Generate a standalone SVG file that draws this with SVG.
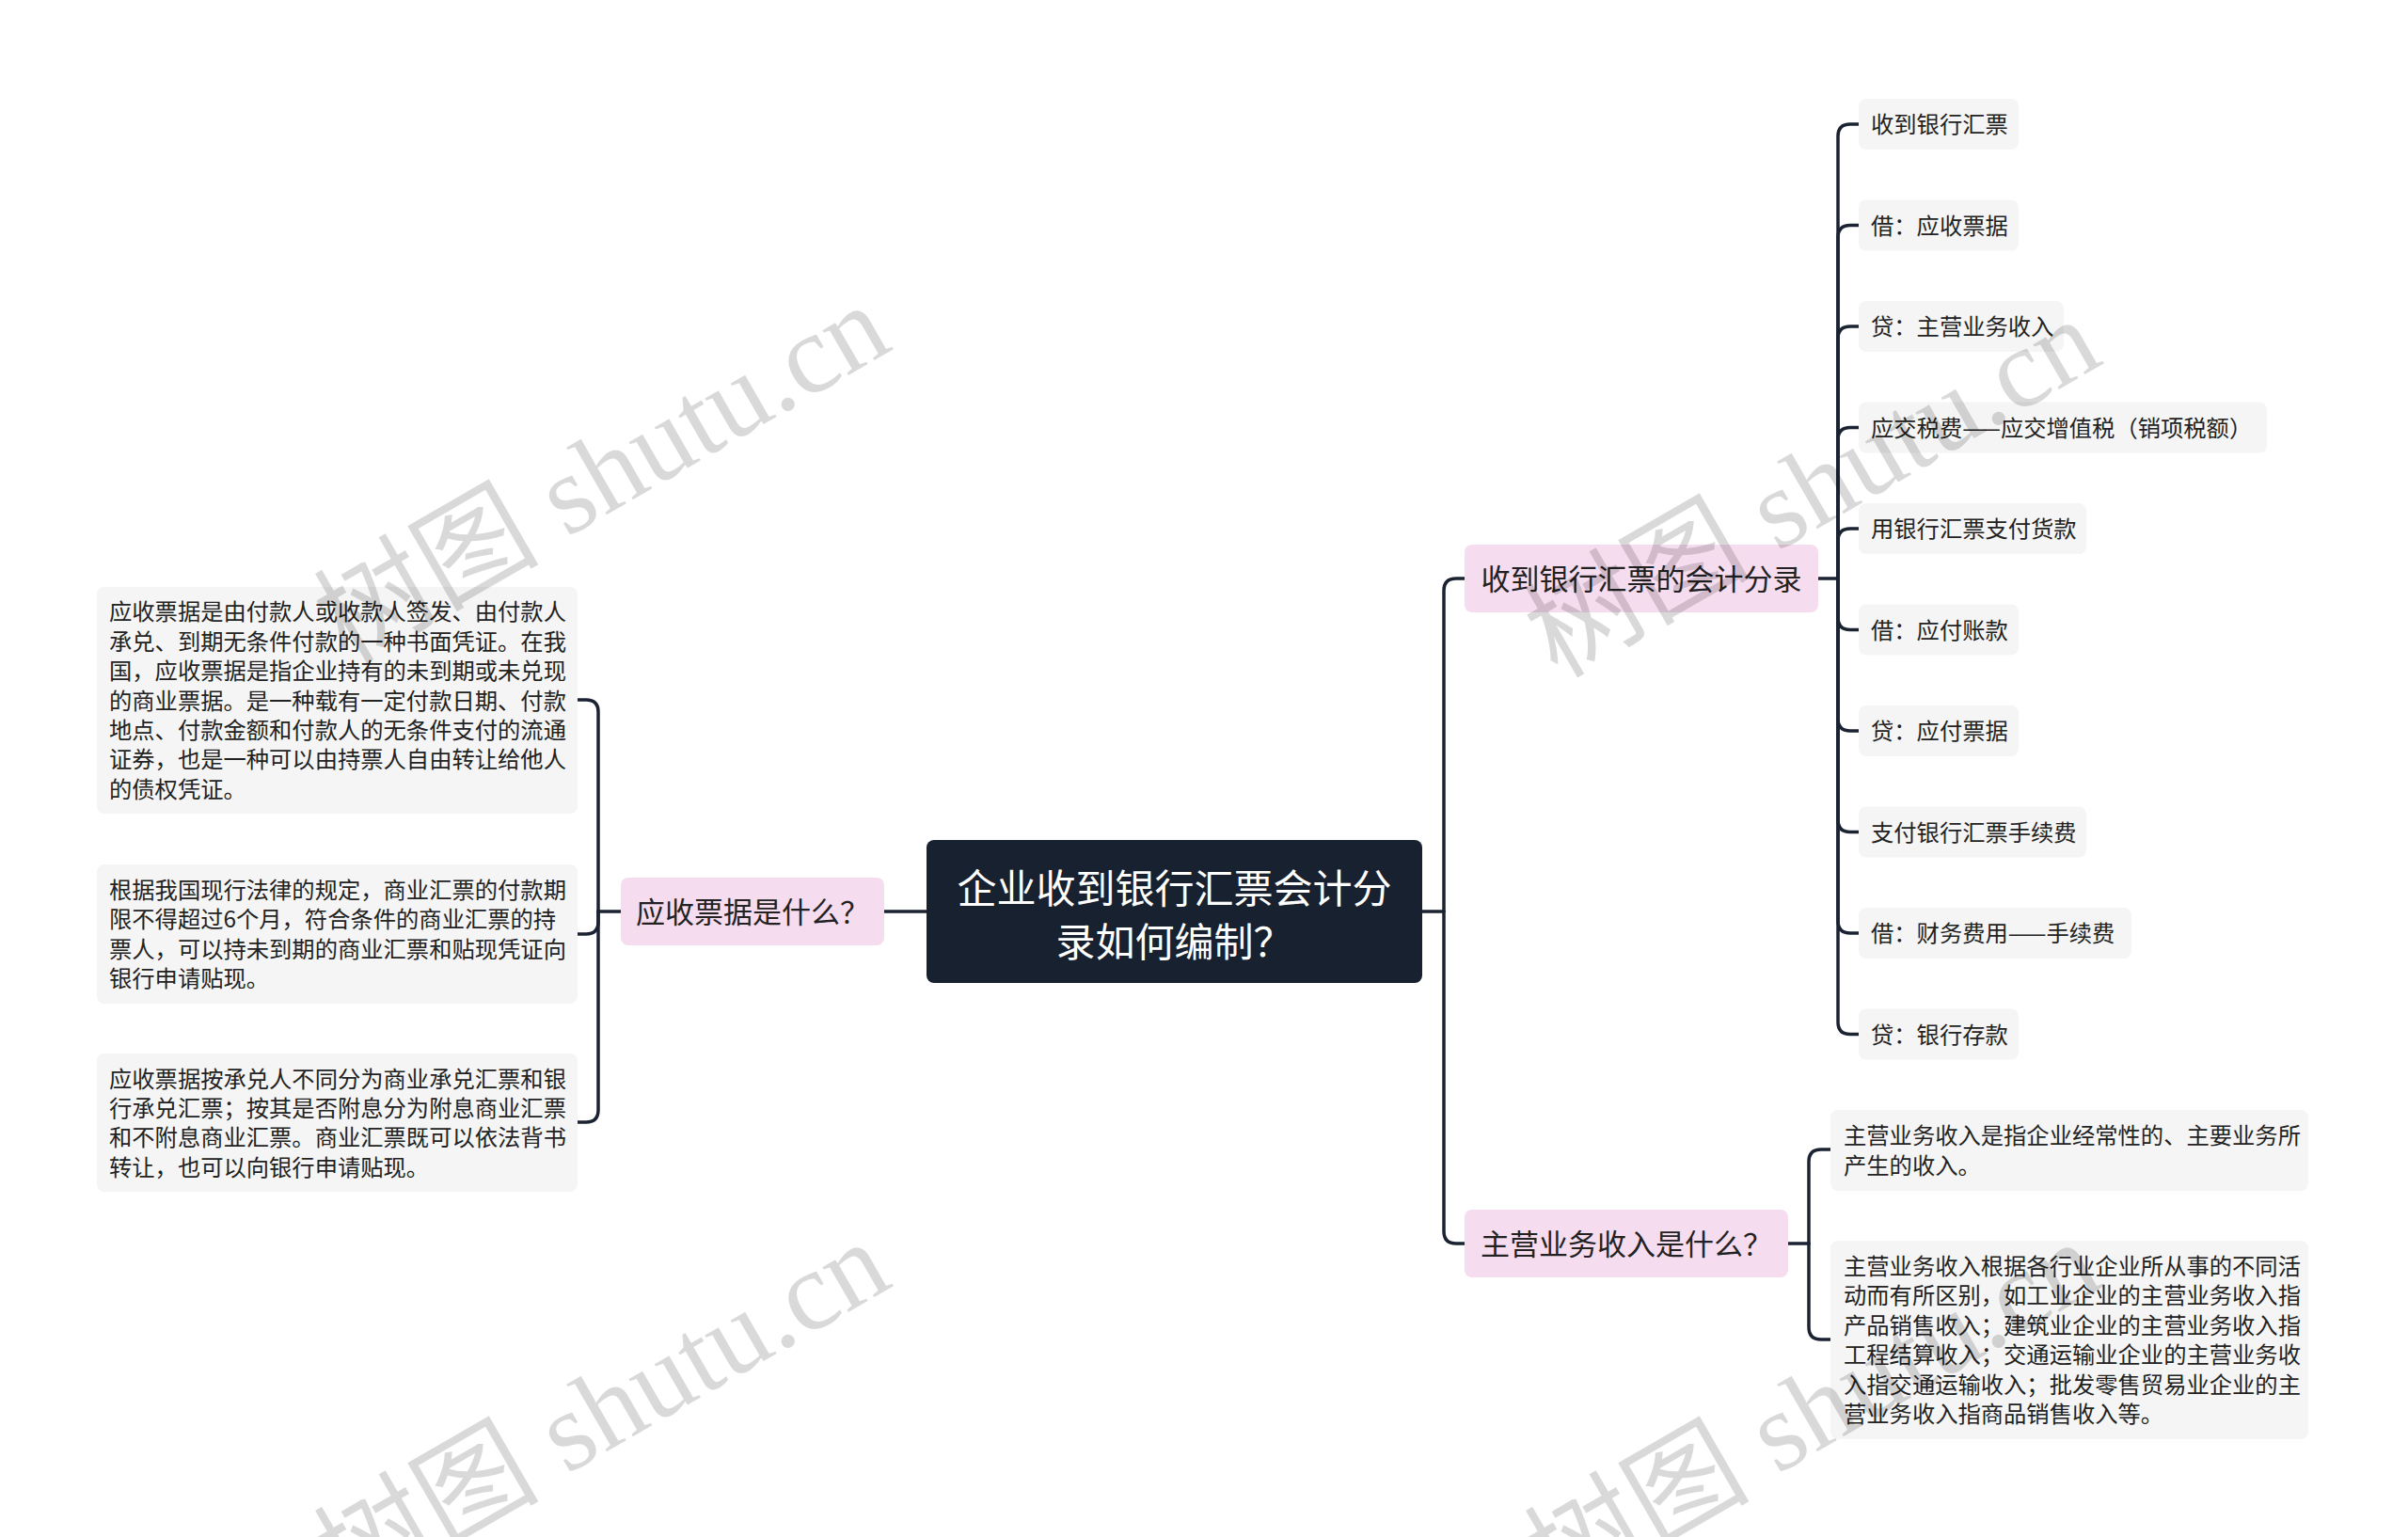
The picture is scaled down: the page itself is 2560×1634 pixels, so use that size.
<svg xmlns="http://www.w3.org/2000/svg" width="2560" height="1634" viewBox="0 0 2560 1634">
<style>
.t{font-family:"Noto Sans CJK SC","Noto Sans",sans-serif;fill:#222}
.c{font-size:42px;fill:#ffffff;text-anchor:middle}
.l1{font-size:31px;text-anchor:middle}
.lf{font-size:24.3px}
.root{fill:#18212f}
.pink{fill:#f6dcef}
.leaf{fill:#f5f5f5}
.con{fill:none;stroke:#1b2333;stroke-width:3.5;stroke-linecap:round}
.wm{font-family:"Liberation Serif","Noto Sans CJK SC",serif;font-size:120px;fill:#000;fill-opacity:0.15;text-anchor:middle}
</style>
<rect width="2560" height="1634" fill="#ffffff"/>
<g id="connectors">
<path class="con" d="M985,969 H940"/>
<path class="con" d="M660,969 H636"/>
<path class="con" d="M636,969 V757 Q636,744 623,744 H614"/>
<path class="con" d="M636,969 V980 Q636,993 623,993 H614"/>
<path class="con" d="M636,969 V1180 Q636,1193 623,1193 H614"/>
<path class="con" d="M1512,969 H1535"/>
<path class="con" d="M1535,969 V628 Q1535,615 1548,615 H1557"/>
<path class="con" d="M1535,969 V1309 Q1535,1322 1548,1322 H1557"/>
<path class="con" d="M1933,615 H1954"/>
<path class="con" d="M1954,615 V145 Q1954,132 1967,132 H1976"/>
<path class="con" d="M1954,615 V252.5 Q1954,239.5 1967,239.5 H1976"/>
<path class="con" d="M1954,615 V360 Q1954,347 1967,347 H1976"/>
<path class="con" d="M1954,615 V467.5 Q1954,454.5 1967,454.5 H1976"/>
<path class="con" d="M1954,615 V575 Q1954,562 1967,562 H1976"/>
<path class="con" d="M1954,615 V656.5 Q1954,669.5 1967,669.5 H1976"/>
<path class="con" d="M1954,615 V764 Q1954,777 1967,777 H1976"/>
<path class="con" d="M1954,615 V871.5 Q1954,884.5 1967,884.5 H1976"/>
<path class="con" d="M1954,615 V979 Q1954,992 1967,992 H1976"/>
<path class="con" d="M1954,615 V1086.5 Q1954,1099.5 1967,1099.5 H1976"/>
<path class="con" d="M1901,1322 H1923"/>
<path class="con" d="M1923,1322 V1235 Q1923,1222 1936,1222 H1946"/>
<path class="con" d="M1923,1322 V1411 Q1923,1424 1936,1424 H1946"/>
</g>
<g id="root">
<rect class="root" x="985" y="893" width="527" height="152" rx="8"/>
<text class="t c" x="1248.5" y="960">企业收到银行汇票会计分</text>
<text class="t c" x="1248.5" y="1017">录如何编制？</text>
</g>
<g id="n-yingshou">
<rect class="pink" x="660" y="933" width="280" height="72" rx="8"/>
<text class="t l1" x="800" y="981">应收票据是什么？</text>
</g>
<g id="n-yingshou-1">
<rect class="leaf" x="103" y="624" width="511" height="241" rx="8"/>
<text class="t lf" x="116"><tspan x="116" y="659.4">应收票据是由付款人或收款人签发、由付款人</tspan><tspan x="116" y="690.8">承兑、到期无条件付款的一种书面凭证。在我</tspan><tspan x="116" y="722.2">国，应收票据是指企业持有的未到期或未兑现</tspan><tspan x="116" y="753.6">的商业票据。是一种载有一定付款日期、付款</tspan><tspan x="116" y="785">地点、付款金额和付款人的无条件支付的流通</tspan><tspan x="116" y="816.4">证券，也是一种可以由持票人自由转让给他人</tspan><tspan x="116" y="847.8">的债权凭证。</tspan></text>
</g>
<g id="n-yingshou-2">
<rect class="leaf" x="103" y="919" width="511" height="148" rx="8"/>
<text class="t lf" x="116"><tspan x="116" y="955">根据我国现行法律的规定，商业汇票的付款期</tspan><tspan x="116" y="986.4">限不得超过6个月，符合条件的商业汇票的持</tspan><tspan x="116" y="1017.8">票人，可以持未到期的商业汇票和贴现凭证向</tspan><tspan x="116" y="1049.2">银行申请贴现。</tspan></text>
</g>
<g id="n-yingshou-3">
<rect class="leaf" x="103" y="1120" width="511" height="147" rx="8"/>
<text class="t lf" x="116"><tspan x="116" y="1155.5">应收票据按承兑人不同分为商业承兑汇票和银</tspan><tspan x="116" y="1186.9">行承兑汇票；按其是否附息分为附息商业汇票</tspan><tspan x="116" y="1218.3">和不附息商业汇票。商业汇票既可以依法背书</tspan><tspan x="116" y="1249.7">转让，也可以向银行申请贴现。</tspan></text>
</g>
<g id="n-fenlu">
<rect class="pink" x="1557" y="579" width="376" height="72" rx="8"/>
<text class="t l1" x="1745" y="627">收到银行汇票的会计分录</text>
</g>
<g id="n-fenlu-1"><rect class="leaf" x="1976" y="105" width="170" height="54" rx="8"/><text class="t lf" x="1989" y="141">收到银行汇票</text></g>
<g id="n-fenlu-2"><rect class="leaf" x="1976" y="212.5" width="170" height="54" rx="8"/><text class="t lf" x="1989" y="248.5">借：应收票据</text></g>
<g id="n-fenlu-3"><rect class="leaf" x="1976" y="320" width="218" height="54" rx="8"/><text class="t lf" x="1989" y="356">贷：主营业务收入</text></g>
<g id="n-fenlu-4"><rect class="leaf" x="1976" y="427.5" width="434" height="54" rx="8"/><text class="t lf" x="1989" y="463.5">应交税费——应交增值税（销项税额）</text></g>
<g id="n-fenlu-5"><rect class="leaf" x="1976" y="535" width="242" height="54" rx="8"/><text class="t lf" x="1989" y="571">用银行汇票支付货款</text></g>
<g id="n-fenlu-6"><rect class="leaf" x="1976" y="642.5" width="170" height="54" rx="8"/><text class="t lf" x="1989" y="678.5">借：应付账款</text></g>
<g id="n-fenlu-7"><rect class="leaf" x="1976" y="750" width="170" height="54" rx="8"/><text class="t lf" x="1989" y="786">贷：应付票据</text></g>
<g id="n-fenlu-8"><rect class="leaf" x="1976" y="857.5" width="242" height="54" rx="8"/><text class="t lf" x="1989" y="893.5">支付银行汇票手续费</text></g>
<g id="n-fenlu-9"><rect class="leaf" x="1976" y="965" width="290" height="54" rx="8"/><text class="t lf" x="1989" y="1001">借：财务费用——手续费</text></g>
<g id="n-fenlu-10"><rect class="leaf" x="1976" y="1072.5" width="170" height="54" rx="8"/><text class="t lf" x="1989" y="1108.5">贷：银行存款</text></g>
<g id="n-zhuying">
<rect class="pink" x="1557" y="1286" width="344" height="72" rx="8"/>
<text class="t l1" x="1729" y="1334">主营业务收入是什么？</text>
</g>
<g id="n-zhuying-1">
<rect class="leaf" x="1946" y="1180" width="508" height="86" rx="8"/>
<text class="t lf" x="1960"><tspan x="1960" y="1216.3">主营业务收入是指企业经常性的、主要业务所</tspan><tspan x="1960" y="1247.7">产生的收入。</tspan></text>
</g>
<g id="n-zhuying-2">
<rect class="leaf" x="1946" y="1319" width="508" height="211" rx="8"/>
<text class="t lf" x="1960"><tspan x="1960" y="1355">主营业务收入根据各行业企业所从事的不同活</tspan><tspan x="1960" y="1386.4">动而有所区别，如工业企业的主营业务收入指</tspan><tspan x="1960" y="1417.8">产品销售收入；建筑业企业的主营业务收入指</tspan><tspan x="1960" y="1449.2">工程结算收入；交通运输业企业的主营业务收</tspan><tspan x="1960" y="1480.6">入指交通运输收入；批发零售贸易业企业的主</tspan><tspan x="1960" y="1512">营业务收入指商品销售收入等。</tspan></text>
</g>
<g id="watermarks">
<text class="wm" x="640" y="544" transform="rotate(-30 640 504)">树图 shutu.cn</text>
<text class="wm" x="1927" y="559" transform="rotate(-30 1927 519)">树图 shutu.cn</text>
<text class="wm" x="640" y="1540" transform="rotate(-30 640 1500)">树图 shutu.cn</text>
<text class="wm" x="1927" y="1540" transform="rotate(-30 1927 1500)">树图 shutu.cn</text>
</g>
</svg>
